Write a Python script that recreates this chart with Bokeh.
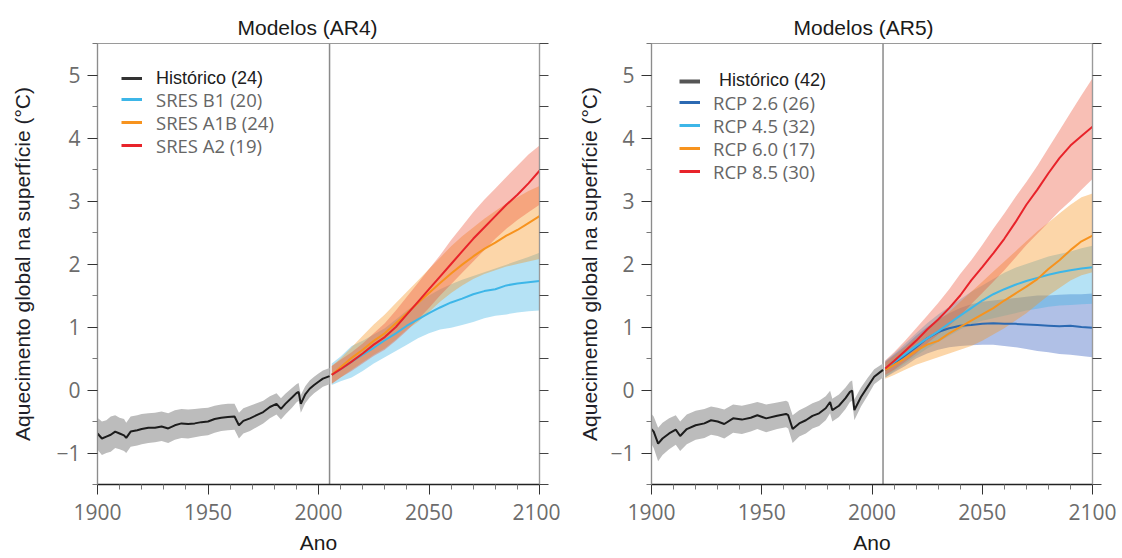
from bokeh.plotting import figure
from bokeh.models import Range1d, FixedTicker, LinearAxis, Span, Legend, LegendItem, Title
from bokeh.layouts import row
from bokeh.embed import file_html
from bokeh.resources import INLINE

# ---------------- data ----------------
# AR4 historical
ar4_hist_years = [1900, 1902, 1904, 1906, 1908, 1910, 1912, 1913, 1915, 1918, 1920, 1923, 1926, 1929, 1932,
                  1935, 1938, 1941, 1944, 1947, 1950, 1953, 1956, 1959, 1962, 1964, 1966, 1969, 1972, 1975,
                  1978, 1981, 1983, 1985, 1988, 1990, 1991, 1992, 1994, 1996, 1998, 2000, 2002, 2005]
ar4_hist_mean = [-0.69, -0.77, -0.74, -0.71, -0.66, -0.69, -0.72, -0.76, -0.66, -0.64, -0.62, -0.60, -0.60, -0.58, -0.61,
                 -0.56, -0.53, -0.54, -0.53, -0.51, -0.50, -0.46, -0.44, -0.43, -0.42, -0.56, -0.49, -0.45, -0.40, -0.35,
                 -0.27, -0.22, -0.30, -0.22, -0.12, -0.05, -0.03, -0.22, -0.07, 0.02, 0.08, 0.13, 0.18, 0.22]
ar4_hist_hi = [-0.44, -0.50, -0.48, -0.42, -0.40, -0.44, -0.46, -0.52, -0.42, -0.40, -0.38, -0.37, -0.36, -0.34, -0.37,
               -0.32, -0.30, -0.31, -0.30, -0.29, -0.28, -0.25, -0.23, -0.22, -0.22, -0.36, -0.29, -0.25, -0.21, -0.17,
               -0.10, -0.05, -0.13, -0.06, 0.03, 0.09, 0.11, -0.08, 0.06, 0.15, 0.21, 0.26, 0.31, 0.35]
ar4_hist_lo = [-0.95, -1.03, -1.00, -0.98, -0.92, -0.94, -0.97, -1.00, -0.90, -0.88, -0.86, -0.84, -0.83, -0.81, -0.84,
               -0.79, -0.76, -0.77, -0.75, -0.73, -0.72, -0.68, -0.65, -0.64, -0.63, -0.77, -0.69, -0.65, -0.59, -0.53,
               -0.45, -0.39, -0.47, -0.39, -0.28, -0.20, -0.17, -0.36, -0.21, -0.12, -0.05, 0.00, 0.05, 0.09]

# AR5 historical
ar5_hist_years = [1900, 1901, 1903, 1905, 1908, 1911, 1913, 1916, 1920, 1924, 1927, 1930, 1933, 1937, 1941,
                  1945, 1948, 1952, 1957, 1961, 1962, 1964, 1967, 1970, 1973, 1976, 1979, 1981, 1982, 1985,
                  1988, 1990, 1991, 1992, 1995, 1998, 2001, 2005]
ar5_hist_mean = [-0.62, -0.66, -0.85, -0.77, -0.69, -0.63, -0.73, -0.62, -0.56, -0.53, -0.48, -0.50, -0.54, -0.45, -0.47,
                 -0.44, -0.40, -0.45, -0.41, -0.38, -0.40, -0.62, -0.53, -0.48, -0.41, -0.37, -0.29, -0.19, -0.32, -0.25,
                 -0.13, -0.03, -0.01, -0.32, -0.11, 0.05, 0.21, 0.32]
ar5_hist_hi = [-0.38, -0.42, -0.60, -0.52, -0.45, -0.40, -0.50, -0.39, -0.33, -0.30, -0.26, -0.28, -0.31, -0.23, -0.25,
               -0.22, -0.19, -0.23, -0.20, -0.17, -0.19, -0.40, -0.32, -0.27, -0.21, -0.17, -0.10, -0.01, -0.14, -0.07,
               0.04, 0.13, 0.15, -0.15, 0.04, 0.19, 0.33, 0.42]
ar5_hist_lo = [-0.86, -0.92, -1.13, -1.03, -0.94, -0.87, -0.97, -0.86, -0.79, -0.76, -0.71, -0.73, -0.77, -0.68, -0.70,
               -0.66, -0.62, -0.67, -0.62, -0.59, -0.61, -0.84, -0.74, -0.69, -0.61, -0.57, -0.48, -0.37, -0.50, -0.43,
               -0.30, -0.19, -0.17, -0.48, -0.26, -0.09, 0.09, 0.20]

proj_years = [2006, 2010, 2015, 2020, 2025, 2030, 2035, 2040, 2045, 2050,
              2055, 2060, 2065, 2070, 2075, 2080, 2085, 2090, 2095, 2100]

# AR4 scenarios
b1_mean = [0.24, 0.33, 0.45, 0.56, 0.67, 0.79, 0.90, 1.02, 1.12, 1.22, 1.31, 1.39, 1.45, 1.52, 1.57, 1.60, 1.66, 1.69, 1.71, 1.73]
b1_hi = [0.42, 0.53, 0.70, 0.78, 0.88, 0.98, 1.12, 1.26, 1.38, 1.50, 1.60, 1.68, 1.75, 1.81, 1.87, 1.93, 1.99, 2.05, 2.11, 2.18]
b1_lo = [0.08, 0.14, 0.20, 0.30, 0.42, 0.52, 0.62, 0.72, 0.82, 0.90, 0.96, 0.99, 1.03, 1.08, 1.14, 1.18, 1.20, 1.23, 1.25, 1.26]
a1b_mean = [0.24, 0.36, 0.51, 0.64, 0.78, 0.90, 1.06, 1.22, 1.38, 1.54, 1.70, 1.85, 1.99, 2.12, 2.24, 2.34, 2.45, 2.54, 2.65, 2.76]
a1b_hi = [0.38, 0.50, 0.68, 0.86, 1.04, 1.20, 1.38, 1.56, 1.74, 1.92, 2.10, 2.28, 2.44, 2.58, 2.72, 2.84, 2.96, 3.06, 3.16, 3.24]
a1b_lo = [0.10, 0.20, 0.32, 0.44, 0.56, 0.66, 0.80, 0.96, 1.08, 1.24, 1.40, 1.54, 1.66, 1.76, 1.84, 1.90, 1.96, 2.00, 2.04, 2.08]
a2_mean = [0.24, 0.33, 0.45, 0.58, 0.72, 0.84, 1.00, 1.20, 1.40, 1.60, 1.80, 2.00, 2.20, 2.40, 2.58, 2.76, 2.94, 3.10, 3.28, 3.48]
a2_hi = [0.38, 0.48, 0.60, 0.74, 0.90, 1.06, 1.26, 1.48, 1.70, 1.92, 2.14, 2.38, 2.60, 2.82, 3.02, 3.20, 3.38, 3.56, 3.74, 3.88]
a2_lo = [0.10, 0.20, 0.30, 0.42, 0.54, 0.64, 0.78, 0.94, 1.12, 1.30, 1.50, 1.68, 1.86, 2.04, 2.22, 2.40, 2.56, 2.70, 2.82, 2.94]

# AR5 scenarios
rcp26_mean = [0.32, 0.42, 0.55, 0.68, 0.82, 0.92, 0.98, 1.02, 1.03, 1.05, 1.06, 1.05, 1.05, 1.04, 1.03, 1.02, 1.01, 1.02, 1.00, 0.99]
rcp26_hi = [0.45, 0.56, 0.70, 0.86, 1.00, 1.12, 1.22, 1.30, 1.36, 1.40, 1.42, 1.44, 1.46, 1.48, 1.50, 1.50, 1.51, 1.52, 1.52, 1.53]
rcp26_lo = [0.20, 0.28, 0.38, 0.50, 0.58, 0.64, 0.68, 0.70, 0.71, 0.72, 0.72, 0.70, 0.68, 0.65, 0.62, 0.60, 0.57, 0.56, 0.54, 0.52]
rcp45_mean = [0.33, 0.44, 0.57, 0.70, 0.82, 0.93, 1.06, 1.18, 1.30, 1.42, 1.52, 1.60, 1.67, 1.73, 1.78, 1.83, 1.87, 1.90, 1.93, 1.95]
rcp45_hi = [0.46, 0.58, 0.74, 0.90, 1.06, 1.20, 1.32, 1.44, 1.56, 1.66, 1.76, 1.86, 1.94, 2.00, 2.06, 2.12, 2.16, 2.20, 2.25, 2.29]
rcp45_lo = [0.20, 0.30, 0.42, 0.54, 0.66, 0.76, 0.86, 0.96, 1.04, 1.10, 1.14, 1.18, 1.22, 1.26, 1.29, 1.32, 1.34, 1.35, 1.36, 1.37]
rcp60_mean = [0.32, 0.40, 0.50, 0.62, 0.72, 0.78, 0.90, 1.00, 1.10, 1.20, 1.30, 1.42, 1.53, 1.64, 1.76, 1.92, 2.06, 2.22, 2.36, 2.45]
rcp60_hi = [0.44, 0.54, 0.68, 0.82, 0.96, 1.10, 1.24, 1.40, 1.56, 1.72, 1.88, 2.04, 2.20, 2.36, 2.52, 2.66, 2.80, 2.94, 3.06, 3.12]
rcp60_lo = [0.18, 0.24, 0.32, 0.40, 0.46, 0.52, 0.58, 0.64, 0.70, 0.78, 0.88, 0.98, 1.10, 1.22, 1.36, 1.50, 1.62, 1.74, 1.82, 1.87]
rcp85_mean = [0.34, 0.46, 0.62, 0.78, 0.96, 1.12, 1.30, 1.50, 1.74, 1.95, 2.17, 2.40, 2.66, 2.94, 3.18, 3.44, 3.68, 3.88, 4.03, 4.18]
rcp85_hi = [0.47, 0.60, 0.78, 0.98, 1.18, 1.38, 1.60, 1.84, 2.06, 2.30, 2.56, 2.80, 3.06, 3.30, 3.56, 3.84, 4.12, 4.40, 4.68, 4.95]
rcp85_lo = [0.24, 0.32, 0.45, 0.58, 0.74, 0.88, 1.02, 1.18, 1.36, 1.54, 1.72, 1.90, 2.10, 2.30, 2.48, 2.66, 2.84, 3.00, 3.18, 3.35]

x_major = [1900, 1950, 2000, 2050, 2100]
x_minor = [1910, 1920, 1930, 1940, 1960, 1970, 1980, 1990, 2010, 2020, 2030, 2040, 2060, 2070, 2080, 2090]
y_major = [-1, 0, 1, 2, 3, 4, 5]
y_minor = [-1.5, -0.5, 0.5, 1.5, 2.5, 3.5, 4.5, 5.5]
split_year = 2005

# ---------------- styles ----------------
C_HIST = "#1c1c1c"
C_BAND_HIST = "#bcbcbc"
C_LBLUE = "#3db6e8"
C_ORANGE = "#f7931e"
C_RED = "#e8232a"
C_DBLUE = "#2b69b2"

TICK_FONT = "Open Sans"
TEXT_FONT = "Liberation Sans"
NAN = float("nan")


def make_panel(title, hist_years, hist_mean, hist_lo, hist_hi, scen, legend_hist, legend_scen,
               left_border, right_border, width, title_off, ylab_standoff, leg):
    p = figure(width=width, height=558, x_range=Range1d(1900, 2100), y_range=Range1d(-1.5, 5.5),
               output_backend="svg", toolbar_location=None,
               min_border_left=left_border, min_border_right=right_border,
               min_border_top=43, min_border_bottom=74)
    p.background_fill_color = "white"
    p.border_fill_color = "white"
    p.outline_line_color = "#9a9a9a"
    p.outline_line_width = 1.2
    p.xgrid.visible = False
    p.ygrid.visible = False

    p.add_layout(Title(text=title, align="left", offset=title_off, text_font=TEXT_FONT,
                       text_font_size="21px", text_font_style="normal", text_color="#1a1a1a"), "above")

    # x axis
    xa = p.xaxis[0]
    xa.ticker = FixedTicker(ticks=x_major, minor_ticks=x_minor)
    xa.axis_line_color = "#222222"
    xa.axis_line_width = 1.6
    xa.major_tick_line_color = "#333333"
    xa.minor_tick_line_color = "#777777"
    xa.major_tick_out = 10
    xa.major_tick_in = 0
    xa.minor_tick_out = 5
    xa.minor_tick_in = 0
    xa.major_label_text_font = TICK_FONT
    xa.major_label_text_font_size = "21px"
    xa.major_label_text_color = "#6c6c6c"
    xa.major_label_standoff = 9
    xa.axis_label = "Ano"
    xa.axis_label_text_font = TEXT_FONT
    xa.axis_label_text_font_size = "21px"
    xa.axis_label_text_font_style = "normal"
    xa.axis_label_text_color = "#1a1a1a"
    xa.axis_label_standoff = 8

    # y axis (left)
    ya = p.yaxis[0]
    ya.ticker = FixedTicker(ticks=y_major, minor_ticks=y_minor)
    ya.axis_line_color = "#8c8c8c"
    ya.axis_line_width = 1.2
    ya.major_tick_line_color = "#333333"
    ya.minor_tick_line_color = "#777777"
    ya.major_tick_out = 10
    ya.major_tick_in = 0
    ya.minor_tick_out = 5
    ya.minor_tick_in = 0
    ya.major_label_text_font = TICK_FONT
    ya.major_label_text_font_size = "21px"
    ya.major_label_text_color = "#6c6c6c"
    ya.major_label_standoff = 7
    ya.axis_label = "Aquecimento global na superfície (°C)"
    ya.axis_label_text_font = TEXT_FONT
    ya.axis_label_text_font_size = "21px"
    ya.axis_label_text_font_style = "normal"
    ya.axis_label_text_color = "#1e1e28"
    ya.axis_label_standoff = ylab_standoff

    # right axis: ticks only, no labels
    ra = LinearAxis(ticker=FixedTicker(ticks=[], minor_ticks=sorted(y_major + y_minor)))
    ra.axis_line_color = "#9a9a9a"
    ra.axis_line_width = 1.2
    ra.minor_tick_line_color = "#444444"
    ra.minor_tick_out = 9
    ra.minor_tick_in = 0
    ra.major_tick_out = 0
    ra.major_tick_in = 0
    p.add_layout(ra, "right")

    p.add_layout(Span(location=split_year, dimension="height", line_color="#8a8a8a",
                      line_width=1.5, level="underlay"))

    # bands
    p.varea(x=hist_years, y1=hist_lo, y2=hist_hi, fill_color=C_BAND_HIST, fill_alpha=1.0)
    for (m, lo, hi, col, bcol, balpha) in scen:
        p.varea(x=proj_years, y1=lo, y2=hi, fill_color=bcol, fill_alpha=balpha)
    # lines
    p.line(hist_years, hist_mean, line_color=C_HIST, line_width=2)
    for (m, lo, hi, col, bcol, balpha) in scen:
        p.line(proj_years, m, line_color=col, line_width=2)

    # legends (one per row, so each row sits where the reference puts it)
    fr_h = 558 - 43 - 74
    lx, hist_row, hist_std, hist_col, hist_lw, rows, scen_std = leg
    r = p.line([NAN], [NAN], line_color=hist_col, line_width=hist_lw)
    lg = Legend(items=[LegendItem(label=legend_hist, renderers=[r])],
                location=(lx, fr_h - hist_row - 11), padding=0, margin=0, spacing=0,
                glyph_width=21, glyph_height=22, label_height=22, label_standoff=hist_std,
                label_text_font=TEXT_FONT, label_text_font_size="18px", label_text_color="#202020",
                border_line_color=None, background_fill_alpha=0)
    p.add_layout(lg)
    for (label, col), rr in zip(legend_scen, rows):
        d = p.line([NAN], [NAN], line_color=col, line_width=3)
        lg = Legend(items=[LegendItem(label=label, renderers=[d])],
                    location=(lx, fr_h - rr - 11), padding=0, margin=0, spacing=0,
                    glyph_width=21, glyph_height=22, label_height=22, label_standoff=scen_std,
                    label_text_font=TICK_FONT, label_text_font_size="18.5px", label_text_color="#666666",
                    border_line_color=None, background_fill_alpha=0)
        p.add_layout(lg)
    return p


scen4 = [
    (b1_mean, b1_lo, b1_hi, C_LBLUE, "#3cb4e6", 0.38),
    (a1b_mean, a1b_lo, a1b_hi, C_ORANGE, "#f7931e", 0.38),
    (a2_mean, a2_lo, a2_hi, C_RED, "#eb4e32", 0.36),
]
scen5 = [
    (rcp26_mean, rcp26_lo, rcp26_hi, C_DBLUE, "#3a62c0", 0.40),
    (rcp45_mean, rcp45_lo, rcp45_hi, C_LBLUE, "#3cb4e6", 0.38),
    (rcp60_mean, rcp60_lo, rcp60_hi, C_ORANGE, "#f7931e", 0.38),
    (rcp85_mean, rcp85_lo, rcp85_hi, C_RED, "#eb4e32", 0.36),
]

p1 = make_panel("Modelos (AR4)", ar4_hist_years, ar4_hist_mean, ar4_hist_lo, ar4_hist_hi, scen4,
                "Histórico (24)",
                [("SRES B1 (20)", C_LBLUE), ("SRES A1B (24)", C_ORANGE), ("SRES A2 (19)", C_RED)],
                97, 21, 560, 140, 19,
                (24, 35, 14, "#333333", 3, [57.5, 80.5, 103.5], 14))
p2 = make_panel("Modelos (AR5)", ar5_hist_years, ar5_hist_mean, ar5_hist_lo, ar5_hist_hi, scen5,
                "Histórico (42)",
                [("RCP 2.6 (26)", C_DBLUE), ("RCP 4.5 (32)", C_LBLUE), ("RCP 6.0 (17)", C_ORANGE),
                 ("RCP 8.5 (30)", C_RED)],
                91, 30, 562, 142, 6,
                (28, 37.5, 19, "#555555", 4, [60.5, 83.5, 106.5, 129.5], 13))

layout = row(p1, p2)
open("out.html", "w").write(file_html(layout, INLINE))
